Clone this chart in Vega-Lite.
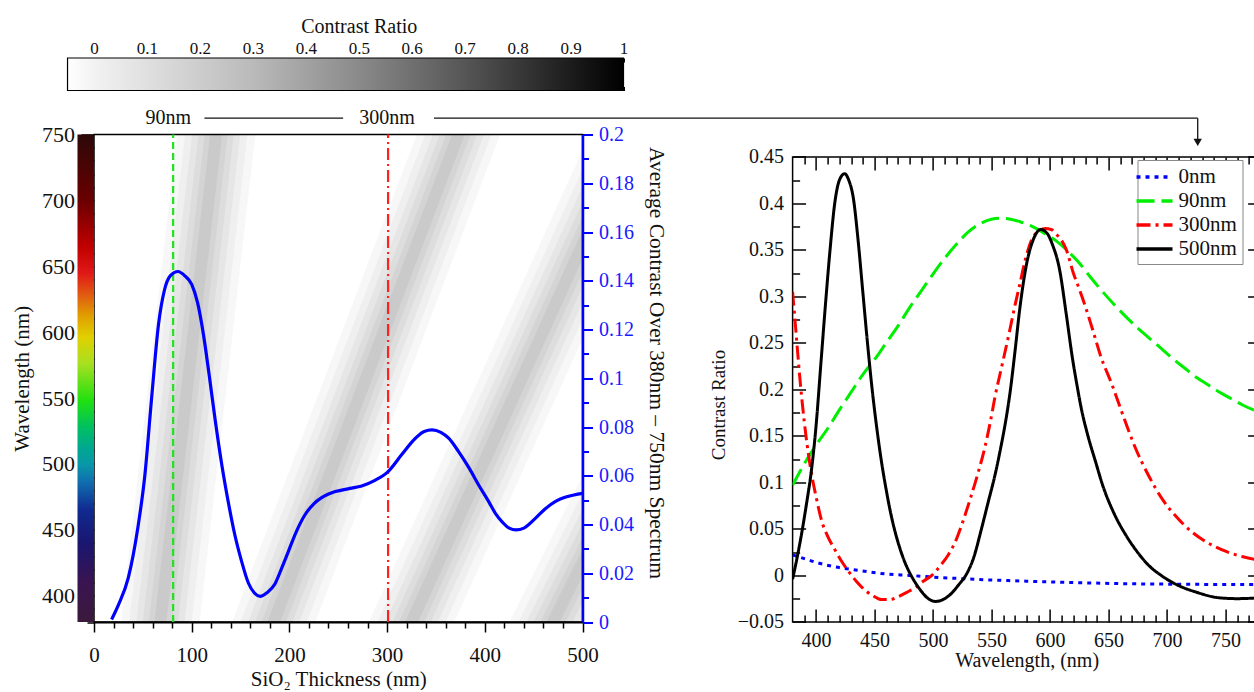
{
  "$schema": "https://vega.github.io/schema/vega-lite/v6.json",
  "padding": {"left": 10, "top": 16, "right": 0, "bottom": 0},
  "background": "white",
  "config": {
    "font": "Liberation Serif",
    "view": {"stroke": null},
    "axis": {"grid": false, "zindex": 1, "labelFont": "Liberation Serif", "titleFont": "Liberation Serif", "labelColor": "#111", "titleColor": "#111", "titleFontWeight": "normal", "tickColor": "#000", "domainColor": "#000", "labelFlush": false, "labelOverlap": false, "tickWidth": 1.5, "domainWidth": 2},
    "legend": {"labelFont": "Liberation Serif"},
    "text": {"font": "Liberation Serif"}
  },
  "datasets": {
    "bands": [
      {"band": "A", "d": 61.8, "w": 340}, {"band": "A", "d": 131.2, "w": 790},
      {"band": "B", "d": 163.6, "w": 340}, {"band": "B", "d": 393.4, "w": 790},
      {"band": "C", "d": 300.6, "w": 340}, {"band": "C", "d": 575.4, "w": 790},
      {"band": "D", "d": 443, "w": 340}, {"band": "D", "d": 745, "w": 790}
    ],
    "avg": [
      {"d":18,"v":0.001},{"d":25,"v":0.007},{"d":35,"v":0.018},{"d":45,"v":0.039},{"d":52,"v":0.06},{"d":59,"v":0.092},{"d":66,"v":0.122},{"d":72,"v":0.136},{"d":78,"v":0.142},{"d":86,"v":0.1438},{"d":93,"v":0.142},{"d":100,"v":0.1385},{"d":106,"v":0.131},{"d":112,"v":0.118},{"d":118,"v":0.101},{"d":124,"v":0.083},{"d":131,"v":0.064},{"d":138,"v":0.048},{"d":144,"v":0.036},{"d":151,"v":0.025},{"d":158,"v":0.016},{"d":164,"v":0.012},{"d":170,"v":0.0105},{"d":177,"v":0.012},{"d":185,"v":0.0155},{"d":192,"v":0.022},{"d":199,"v":0.029},{"d":207,"v":0.037},{"d":216,"v":0.044},{"d":225,"v":0.0485},{"d":233,"v":0.051},{"d":247,"v":0.0535},{"d":262,"v":0.0548},{"d":274,"v":0.0558},{"d":287,"v":0.058},{"d":301,"v":0.0617},{"d":315,"v":0.0687},{"d":329,"v":0.0754},{"d":338,"v":0.0782},{"d":346,"v":0.0788},{"d":355,"v":0.0778},{"d":363,"v":0.0754},{"d":373,"v":0.07},{"d":384,"v":0.0631},{"d":394,"v":0.056},{"d":404,"v":0.0494},{"d":411,"v":0.0445},{"d":418,"v":0.041},{"d":425,"v":0.0385},{"d":432,"v":0.0378},{"d":440,"v":0.0385},{"d":452,"v":0.0426},{"d":462,"v":0.0465},{"d":472,"v":0.0494},{"d":485,"v":0.0515},{"d":500,"v":0.0528}
    ],
    "spectra": [
      {"t":"0nm","x":380,"y":0.022},{"t":"0nm","x":390,"y":0.018},{"t":"0nm","x":400,"y":0.014},{"t":"0nm","x":415,"y":0.0095},{"t":"0nm","x":430,"y":0.0065},{"t":"0nm","x":445,"y":0.0038},{"t":"0nm","x":460,"y":0.0015},{"t":"0nm","x":480,"y":0.0},{"t":"0nm","x":500,"y":-0.0018},{"t":"0nm","x":520,"y":-0.0032},{"t":"0nm","x":545,"y":-0.0047},{"t":"0nm","x":570,"y":-0.0058},{"t":"0nm","x":600,"y":-0.007},{"t":"0nm","x":630,"y":-0.008},{"t":"0nm","x":660,"y":-0.0088},{"t":"0nm","x":700,"y":-0.0094},{"t":"0nm","x":740,"y":-0.0097},{"t":"0nm","x":780,"y":-0.0099},
      {"t":"90nm","x":380,"y":0.097},{"t":"90nm","x":390,"y":0.12},{"t":"90nm","x":400,"y":0.14},{"t":"90nm","x":410,"y":0.158},{"t":"90nm","x":420,"y":0.178},{"t":"90nm","x":430,"y":0.197},{"t":"90nm","x":440,"y":0.216},{"t":"90nm","x":450,"y":0.232},{"t":"90nm","x":460,"y":0.25},{"t":"90nm","x":470,"y":0.268},{"t":"90nm","x":480,"y":0.288},{"t":"90nm","x":490,"y":0.306},{"t":"90nm","x":500,"y":0.324},{"t":"90nm","x":510,"y":0.341},{"t":"90nm","x":520,"y":0.356},{"t":"90nm","x":530,"y":0.369},{"t":"90nm","x":540,"y":0.378},{"t":"90nm","x":550,"y":0.383},{"t":"90nm","x":558,"y":0.384},{"t":"90nm","x":566,"y":0.383},{"t":"90nm","x":575,"y":0.38},{"t":"90nm","x":585,"y":0.375},{"t":"90nm","x":595,"y":0.368},{"t":"90nm","x":605,"y":0.36},{"t":"90nm","x":615,"y":0.349},{"t":"90nm","x":625,"y":0.336},{"t":"90nm","x":635,"y":0.32},{"t":"90nm","x":645,"y":0.305},{"t":"90nm","x":655,"y":0.291},{"t":"90nm","x":665,"y":0.278},{"t":"90nm","x":675,"y":0.266},{"t":"90nm","x":685,"y":0.255},{"t":"90nm","x":695,"y":0.244},{"t":"90nm","x":705,"y":0.233},{"t":"90nm","x":715,"y":0.223},{"t":"90nm","x":725,"y":0.213},{"t":"90nm","x":735,"y":0.205},{"t":"90nm","x":745,"y":0.197},{"t":"90nm","x":755,"y":0.19},{"t":"90nm","x":765,"y":0.183},{"t":"90nm","x":780,"y":0.175},
      {"t":"300nm","x":380,"y":0.305},{"t":"300nm","x":383,"y":0.26},{"t":"300nm","x":386,"y":0.215},{"t":"300nm","x":390,"y":0.165},{"t":"300nm","x":395,"y":0.118},{"t":"300nm","x":400,"y":0.085},{"t":"300nm","x":405,"y":0.058},{"t":"300nm","x":410,"y":0.042},{"t":"300nm","x":416,"y":0.028},{"t":"300nm","x":422,"y":0.015},{"t":"300nm","x":428,"y":0.004},{"t":"300nm","x":435,"y":-0.007},{"t":"300nm","x":442,"y":-0.016},{"t":"300nm","x":449,"y":-0.022},{"t":"300nm","x":456,"y":-0.026},{"t":"300nm","x":463,"y":-0.026},{"t":"300nm","x":470,"y":-0.023},{"t":"300nm","x":478,"y":-0.018},{"t":"300nm","x":485,"y":-0.013},{"t":"300nm","x":492,"y":-0.006},{"t":"300nm","x":499,"y":0.0},{"t":"300nm","x":506,"y":0.01},{"t":"300nm","x":513,"y":0.022},{"t":"300nm","x":519,"y":0.036},{"t":"300nm","x":525,"y":0.056},{"t":"300nm","x":532,"y":0.083},{"t":"300nm","x":538,"y":0.108},{"t":"300nm","x":544,"y":0.136},{"t":"300nm","x":549,"y":0.165},{"t":"300nm","x":553,"y":0.192},{"t":"300nm","x":559,"y":0.226},{"t":"300nm","x":565,"y":0.26},{"t":"300nm","x":570,"y":0.29},{"t":"300nm","x":574,"y":0.312},{"t":"300nm","x":579,"y":0.34},{"t":"300nm","x":584,"y":0.36},{"t":"300nm","x":590,"y":0.37},{"t":"300nm","x":596,"y":0.373},{"t":"300nm","x":601,"y":0.372},{"t":"300nm","x":606,"y":0.366},{"t":"300nm","x":610,"y":0.36},{"t":"300nm","x":614,"y":0.35},{"t":"300nm","x":620,"y":0.325},{"t":"300nm","x":625,"y":0.308},{"t":"300nm","x":630,"y":0.29},{"t":"300nm","x":637,"y":0.262},{"t":"300nm","x":643,"y":0.237},{"t":"300nm","x":653,"y":0.205},{"t":"300nm","x":663,"y":0.17},{"t":"300nm","x":673,"y":0.137},{"t":"300nm","x":684,"y":0.108},{"t":"300nm","x":696,"y":0.082},{"t":"300nm","x":708,"y":0.063},{"t":"300nm","x":721,"y":0.047},{"t":"300nm","x":735,"y":0.035},{"t":"300nm","x":750,"y":0.026},{"t":"300nm","x":765,"y":0.02},{"t":"300nm","x":780,"y":0.016},
      {"t":"500nm","x":380,"y":-0.004},{"t":"500nm","x":384,"y":0.02},{"t":"500nm","x":388,"y":0.047},{"t":"500nm","x":392,"y":0.078},{"t":"500nm","x":396,"y":0.112},{"t":"500nm","x":400,"y":0.16},{"t":"500nm","x":404,"y":0.225},{"t":"500nm","x":408,"y":0.29},{"t":"500nm","x":412,"y":0.35},{"t":"500nm","x":416,"y":0.4},{"t":"500nm","x":420,"y":0.425},{"t":"500nm","x":424.5,"y":0.432},{"t":"500nm","x":428,"y":0.425},{"t":"500nm","x":432,"y":0.405},{"t":"500nm","x":436,"y":0.36},{"t":"500nm","x":440,"y":0.305},{"t":"500nm","x":444,"y":0.25},{"t":"500nm","x":448,"y":0.2},{"t":"500nm","x":452,"y":0.158},{"t":"500nm","x":456,"y":0.122},{"t":"500nm","x":460,"y":0.092},{"t":"500nm","x":464,"y":0.066},{"t":"500nm","x":468,"y":0.045},{"t":"500nm","x":472,"y":0.028},{"t":"500nm","x":476,"y":0.014},{"t":"500nm","x":480,"y":0.003},{"t":"500nm","x":485,"y":-0.008},{"t":"500nm","x":490,"y":-0.017},{"t":"500nm","x":495,"y":-0.024},{"t":"500nm","x":502,"y":-0.028},{"t":"500nm","x":510,"y":-0.025},{"t":"500nm","x":516,"y":-0.019},{"t":"500nm","x":522,"y":-0.01},{"t":"500nm","x":528,"y":0.0},{"t":"500nm","x":535,"y":0.02},{"t":"500nm","x":541,"y":0.048},{"t":"500nm","x":547,"y":0.078},{"t":"500nm","x":553,"y":0.108},{"t":"500nm","x":558,"y":0.138},{"t":"500nm","x":562,"y":0.165},{"t":"500nm","x":566,"y":0.198},{"t":"500nm","x":570,"y":0.24},{"t":"500nm","x":574,"y":0.285},{"t":"500nm","x":580,"y":0.335},{"t":"500nm","x":586,"y":0.362},{"t":"500nm","x":592,"y":0.372},{"t":"500nm","x":598,"y":0.367},{"t":"500nm","x":602,"y":0.356},{"t":"500nm","x":608,"y":0.33},{"t":"500nm","x":614,"y":0.28},{"t":"500nm","x":619,"y":0.235},{"t":"500nm","x":623,"y":0.205},{"t":"500nm","x":627,"y":0.178},{"t":"500nm","x":632,"y":0.152},{"t":"500nm","x":639,"y":0.122},{"t":"500nm","x":645,"y":0.097},{"t":"500nm","x":655,"y":0.066},{"t":"500nm","x":665,"y":0.043},{"t":"500nm","x":673,"y":0.028},{"t":"500nm","x":685,"y":0.01},{"t":"500nm","x":695,"y":0.0},{"t":"500nm","x":710,"y":-0.011},{"t":"500nm","x":725,"y":-0.018},{"t":"500nm","x":744,"y":-0.024},{"t":"500nm","x":760,"y":-0.025},{"t":"500nm","x":780,"y":-0.024}
    ]
  },
  "bounds": "flush",
  "spacing": 43.5,
  "vconcat": [
    {
      "width": 529.5,
      "height": 32.5,
      "data": {"values": [{"lo": -0.05, "hi": 1, "b": 0, "t": 1}]},
      "resolve": {"axis": {"x": "independent"}},
      "layer": [
        {
          "mark": {"type": "rect", "stroke": "#000", "strokeWidth": 1.2, "color": {"gradient": "linear", "x1": 0, "y1": 0, "x2": 1, "y2": 0, "stops": [
            {"offset": 0, "color": "#ffffff"}, {"offset": 0.048, "color": "#f2f2f2"}, {"offset": 0.333, "color": "#bababa"}, {"offset": 0.524, "color": "#8a8a8a"}, {"offset": 0.714, "color": "#565656"}, {"offset": 0.905, "color": "#1c1c1c"}, {"offset": 1, "color": "#000000"}]}},
          "encoding": {
            "x": {"field": "lo", "type": "quantitative", "scale": {"domain": [0, 1], "nice": false, "zero": false},
              "axis": {"orient": "top", "values": [0,0.1,0.2,0.3,0.4,0.5,0.6,0.7,0.8,0.9,1], "format": "~g", "tickSize": -4, "tickWidth": 1, "labelPadding": 5, "labelFontSize": 17, "domain": false, "title": "Contrast Ratio", "titleFontSize": 20, "titlePadding": 3}},
            "x2": {"field": "hi"},
            "y": {"field": "b", "type": "quantitative", "scale": {"domain": [0, 1], "nice": false, "zero": false}, "axis": null},
            "y2": {"field": "t"}
          }
        },
        {
          "mark": {"type": "point", "opacity": 0},
          "encoding": {
            "x": {"field": "hi", "type": "quantitative", "scale": {"domain": [0, 1], "nice": false, "zero": false},
              "axis": {"orient": "bottom", "values": [0,0.1,0.2,0.3,0.4,0.5,0.6,0.7,0.8,0.9,1], "labels": false, "tickSize": -4, "tickWidth": 1, "domain": false, "title": null}},
            "y": {"field": "b", "type": "quantitative", "scale": {"domain": [0, 1], "nice": false, "zero": false}, "axis": null}
          }
        }
      ]
    },
    {
      "bounds": "flush",
      "spacing": 209.6,
      "hconcat": [
        {
          "width": 488.5,
          "height": 487.5,
          "view": {"stroke": "#000", "strokeWidth": 1.5},
          "resolve": {"scale": {"y": "independent"}, "axis": {"x": "independent", "y": "independent"}},
          "layer": [
            {
              "data": {"values": [{"lo": 380, "hi": 750, "a": -16.9, "b": 0}]},
              "mark": {"type": "rect", "color": {"gradient": "linear", "x1": 0, "y1": 1, "x2": 0, "y2": 0, "stops": [
                {"offset": 0, "color": "#3a1a3c"}, {"offset": 0.081, "color": "#3a1450"}, {"offset": 0.162, "color": "#1a1670"}, {"offset": 0.23, "color": "#102a90"}, {"offset": 0.289, "color": "#1070b0"}, {"offset": 0.324, "color": "#0898a8"}, {"offset": 0.357, "color": "#00a890"}, {"offset": 0.4, "color": "#00c060"}, {"offset": 0.454, "color": "#20e010"}, {"offset": 0.53, "color": "#a8e020"}, {"offset": 0.584, "color": "#e0d000"}, {"offset": 0.627, "color": "#e0a000"}, {"offset": 0.668, "color": "#e06010"}, {"offset": 0.716, "color": "#e01818"}, {"offset": 0.77, "color": "#c00000"}, {"offset": 0.865, "color": "#6a0000"}, {"offset": 1, "color": "#2c0808"}]}},
              "encoding": {
                "x": {"field": "a", "type": "quantitative", "scale": {"domain": [0, 500], "nice": false, "zero": false}, "axis": null},
                "x2": {"field": "b"},
                "y": {"field": "lo", "type": "quantitative", "scale": {"domain": [380, 750], "nice": false, "zero": false}, "axis": null},
                "y2": {"field": "hi"}
              }
            },
            {
              "data": {"name": "bands"},
              "mark": {"type": "line", "stroke": "#000", "strokeWidth": 78, "opacity": 0.03, "clip": true, "strokeCap": "butt"},
              "encoding": {
                "x": {"field": "d", "type": "quantitative", "scale": {"domain": [0, 500], "nice": false, "zero": false},
                  "axis": {"orient": "bottom", "values": [0,100,200,300,400,500], "tickSize": 10, "labelPadding": 12, "labelFontSize": 21, "title": "SiO₂ Thickness (nm)", "titleFontSize": 21, "titlePadding": 3}},
                "y": {"field": "w", "type": "quantitative", "scale": {"domain": [380, 750], "nice": false, "zero": false},
                  "axis": {"orient": "left", "values": [400,450,500,550,600,650,700,750], "tickSize": 13, "labelPadding": 6.5, "labelFontSize": 22, "domain": false, "title": "Wavelength (nm)", "titleFontSize": 21, "titlePadding": 9}},
                "detail": {"field": "band"}
              }
            },
            {
              "data": {"name": "bands"},
              "mark": {"type": "line", "stroke": "#000", "strokeWidth": 62, "opacity": 0.032, "clip": true, "strokeCap": "butt"},
              "encoding": {
                "x": {"field": "d", "type": "quantitative", "scale": {"domain": [0, 500], "nice": false, "zero": false}, "axis": null},
                "y": {"field": "w", "type": "quantitative", "scale": {"domain": [380, 750], "nice": false, "zero": false}, "axis": null},
                "detail": {"field": "band"}
              }
            },
            {
              "data": {"name": "bands"},
              "mark": {"type": "line", "stroke": "#000", "strokeWidth": 48, "opacity": 0.035, "clip": true, "strokeCap": "butt"},
              "encoding": {
                "x": {"field": "d", "type": "quantitative", "scale": {"domain": [0, 500], "nice": false, "zero": false}, "axis": null},
                "y": {"field": "w", "type": "quantitative", "scale": {"domain": [380, 750], "nice": false, "zero": false}, "axis": null},
                "detail": {"field": "band"}
              }
            },
            {
              "data": {"name": "bands"},
              "mark": {"type": "line", "stroke": "#000", "strokeWidth": 35, "opacity": 0.038, "clip": true, "strokeCap": "butt"},
              "encoding": {
                "x": {"field": "d", "type": "quantitative", "scale": {"domain": [0, 500], "nice": false, "zero": false}, "axis": null},
                "y": {"field": "w", "type": "quantitative", "scale": {"domain": [380, 750], "nice": false, "zero": false}, "axis": null},
                "detail": {"field": "band"}
              }
            },
            {
              "data": {"name": "bands"},
              "mark": {"type": "line", "stroke": "#000", "strokeWidth": 23, "opacity": 0.04, "clip": true, "strokeCap": "butt"},
              "encoding": {
                "x": {"field": "d", "type": "quantitative", "scale": {"domain": [0, 500], "nice": false, "zero": false}, "axis": null},
                "y": {"field": "w", "type": "quantitative", "scale": {"domain": [380, 750], "nice": false, "zero": false}, "axis": null},
                "detail": {"field": "band"}
              }
            },
            {
              "data": {"name": "bands"},
              "mark": {"type": "line", "stroke": "#000", "strokeWidth": 12, "opacity": 0.042, "clip": true, "strokeCap": "butt"},
              "encoding": {
                "x": {"field": "d", "type": "quantitative", "scale": {"domain": [0, 500], "nice": false, "zero": false}, "axis": null},
                "y": {"field": "w", "type": "quantitative", "scale": {"domain": [380, 750], "nice": false, "zero": false}, "axis": null},
                "detail": {"field": "band"}
              }
            },
            {
              "data": {"values": [{"d": 0, "w": 380}]},
              "mark": {"type": "point", "opacity": 0},
              "encoding": {
                "x": {"field": "d", "type": "quantitative", "scale": {"domain": [0, 500], "nice": false, "zero": false},
                  "axis": {"orient": "bottom", "values": [20,40,60,80,120,140,160,180,220,240,260,280,320,340,360,380,420,440,460,480], "labels": false, "tickSize": 6, "domain": false, "title": null}},
                "y": {"field": "w", "type": "quantitative", "scale": {"domain": [380, 750], "nice": false, "zero": false},
                  "axis": {"orient": "left", "values": [380,390,410,420,430,440,460,470,480,490,510,520,530,540,560,570,580,590,610,620,630,640,660,670,680,690,710,720,730,740], "labels": false, "tickSize": 7, "domain": false, "title": null}}
              }
            },
            {
              "data": {"values": [{"d": 81, "w1": 380, "w2": 750}]},
              "mark": {"type": "rule", "color": "#22e022", "strokeWidth": 2.2, "strokeDash": [7, 4]},
              "encoding": {
                "x": {"field": "d", "type": "quantitative", "scale": {"domain": [0, 500], "nice": false, "zero": false}, "axis": null},
                "y": {"field": "w1", "type": "quantitative", "scale": {"domain": [380, 750], "nice": false, "zero": false}, "axis": null},
                "y2": {"field": "w2"}
              }
            },
            {
              "data": {"values": [{"d": 301, "w1": 380, "w2": 750}]},
              "mark": {"type": "rule", "color": "#ff2020", "strokeWidth": 2.2, "strokeDash": [12, 4, 2, 4]},
              "encoding": {
                "x": {"field": "d", "type": "quantitative", "scale": {"domain": [0, 500], "nice": false, "zero": false}, "axis": null},
                "y": {"field": "w1", "type": "quantitative", "scale": {"domain": [380, 750], "nice": false, "zero": false}, "axis": null},
                "y2": {"field": "w2"}
              }
            },
            {
              "data": {"name": "avg"},
              "mark": {"type": "line", "color": "#0000ff", "strokeWidth": 3.2, "interpolate": "monotone"},
              "encoding": {
                "x": {"field": "d", "type": "quantitative", "scale": {"domain": [0, 500], "nice": false, "zero": false}, "axis": null},
                "y": {"field": "v", "type": "quantitative", "scale": {"domain": [0, 0.2], "nice": false, "zero": false},
                  "axis": {"orient": "right", "values": [0,0.02,0.04,0.06,0.08,0.1,0.12,0.14,0.16,0.18,0.2], "format": "~g", "tickSize": 10, "tickColor": "#0000ff", "tickWidth": 2, "domainColor": "#0000ff", "domainWidth": 2.5, "labelColor": "#1a1aff", "labelFontSize": 20, "labelPadding": 6, "title": "Average Contrast Over 380nm – 750nm Spectrum", "titleFontSize": 21.5, "titlePadding": 11, "titleY": 228}}
              }
            },
            {
              "data": {"values": [{"d": 0, "v": 0}]},
              "mark": {"type": "point", "opacity": 0},
              "encoding": {
                "x": {"field": "d", "type": "quantitative", "scale": {"domain": [0, 500], "nice": false, "zero": false}, "axis": null},
                "y": {"field": "v", "type": "quantitative", "scale": {"domain": [0, 0.2], "nice": false, "zero": false},
                  "axis": {"orient": "right", "values": [0.01,0.03,0.05,0.07,0.09,0.11,0.13,0.15,0.17,0.19], "labels": false, "tickSize": 6, "tickColor": "#0000ff", "tickWidth": 2, "domain": false, "title": null}}
              }
            },
            {
              "data": {"values": [{"d": 76, "w": 762.4, "lab": "90nm"}, {"d": 300, "w": 762.4, "lab": "300nm"}]},
              "mark": {"type": "text", "fontSize": 20, "font": "Liberation Serif", "color": "#111", "baseline": "middle", "align": "center"},
              "encoding": {
                "x": {"field": "d", "type": "quantitative", "scale": {"domain": [0, 500], "nice": false, "zero": false}, "axis": null},
                "y": {"field": "w", "type": "quantitative", "scale": {"domain": [380, 750], "nice": false, "zero": false}, "axis": null},
                "text": {"field": "lab"}
              }
            },
            {
              "data": {"values": [{"a": 113, "b": 255, "w": 762.4}, {"a": 348, "b": 1129.7, "w": 762.4}]},
              "mark": {"type": "rule", "color": "#111", "strokeWidth": 1.3},
              "encoding": {
                "x": {"field": "a", "type": "quantitative", "scale": {"domain": [0, 500], "nice": false, "zero": false}, "axis": null},
                "x2": {"field": "b"},
                "y": {"field": "w", "type": "quantitative", "scale": {"domain": [380, 750], "nice": false, "zero": false}, "axis": null}
              }
            },
            {
              "data": {"values": [{"d": 1129.7, "w1": 762.4, "w2": 746}]},
              "mark": {"type": "rule", "color": "#111", "strokeWidth": 1.3},
              "encoding": {
                "x": {"field": "d", "type": "quantitative", "scale": {"domain": [0, 500], "nice": false, "zero": false}, "axis": null},
                "y": {"field": "w1", "type": "quantitative", "scale": {"domain": [380, 750], "nice": false, "zero": false}, "axis": null},
                "y2": {"field": "w2"}
              }
            },
            {
              "data": {"values": [{"d": 1129.7, "w": 744}]},
              "mark": {"type": "point", "shape": "triangle-down", "filled": true, "color": "#111", "size": 70, "opacity": 1},
              "encoding": {
                "x": {"field": "d", "type": "quantitative", "scale": {"domain": [0, 500], "nice": false, "zero": false}, "axis": null},
                "y": {"field": "w", "type": "quantitative", "scale": {"domain": [380, 750], "nice": false, "zero": false}, "axis": null}
              }
            }
          ]
        },
        {
          "width": 468,
          "height": 487.4,
          "resolve": {"axis": {"x": "independent", "y": "independent"}},
          "layer": [
            {
              "data": {"values": [{"x1": 380, "x2": 780, "y1": -0.05, "y2": 0.45}]},
              "mark": {"type": "rect", "filled": false, "stroke": "#000", "strokeWidth": 1.5},
              "encoding": {
                "x": {"field": "x1", "type": "quantitative", "scale": {"domain": [380, 780], "nice": false, "zero": false}, "axis": null},
                "x2": {"field": "x2"},
                "y": {"field": "y1", "type": "quantitative", "scale": {"domain": [-0.05, 0.4741], "nice": false, "zero": false}, "axis": null},
                "y2": {"field": "y2"}
              }
            },
            {
              "data": {"name": "spectra"},
              "mark": {"type": "line", "strokeWidth": 3, "interpolate": "monotone", "clip": true},
              "encoding": {
                "x": {"field": "x", "type": "quantitative", "scale": {"domain": [380, 780], "nice": false, "zero": false},
                  "axis": {"orient": "bottom", "values": [400,450,500,550,600,650,700,750], "tickSize": -13, "labelPadding": 22, "labelFontSize": 20, "domain": false, "title": "Wavelength, (nm)", "titleFontSize": 20, "titlePadding": 0}},
                "y": {"field": "y", "type": "quantitative", "scale": {"domain": [-0.05, 0.4741], "nice": false, "zero": false},
                  "axis": {"orient": "left", "values": [-0.05,0,0.05,0.1,0.15,0.2,0.25,0.3,0.35,0.4,0.45], "format": "~g", "tickSize": -13, "labelPadding": 22, "labelFontSize": 20, "domain": false, "title": "Contrast Ratio", "titleFontSize": 19, "titlePadding": 9, "titleY": 270}},
                "color": {"field": "t", "type": "nominal", "scale": {"domain": ["0nm", "90nm", "300nm", "500nm"], "range": ["#0000ff", "#00ee00", "#ff0000", "#000000"]},
                  "legend": {"title": null, "orient": "none", "legendX": 1043.5, "legendY": 102, "strokeColor": "#888", "fillColor": "#ffffff", "padding": 5, "symbolType": "M-1.8,0H1.8", "symbolSize": 400, "symbolStrokeWidth": 3.5, "labelFontSize": 21, "labelColor": "#111", "labelOffset": 12, "rowPadding": 2}},
                "strokeDash": {"field": "t", "type": "nominal", "scale": {"domain": ["0nm", "90nm", "300nm", "500nm"], "range": [[4, 5], [18, 7], [14, 5, 3, 5], [1, 0]]},
                  "legend": {"title": null, "orient": "none", "legendX": 1043.5, "legendY": 102, "strokeColor": "#888", "fillColor": "#ffffff", "padding": 5, "symbolType": "M-1.8,0H1.8", "symbolSize": 400, "symbolStrokeWidth": 3.5, "labelFontSize": 21, "labelColor": "#111", "labelOffset": 12, "rowPadding": 2}}
              }
            },
            {
              "data": {"values": [{"x": 500, "y": 0}]},
              "mark": {"type": "point", "opacity": 0},
              "encoding": {
                "x": {"field": "x", "type": "quantitative", "scale": {"domain": [380, 780], "nice": false, "zero": false},
                  "axis": {"orient": "bottom", "values": [390,410,420,430,440,460,470,480,490,510,520,530,540,560,570,580,590,610,620,630,640,660,670,680,690,710,720,730,740,760,770], "labels": false, "tickSize": -7, "domain": false, "title": null}},
                "y": {"field": "y", "type": "quantitative", "scale": {"domain": [-0.05, 0.4741], "nice": false, "zero": false},
                  "axis": {"orient": "left", "values": [-0.025,0.025,0.075,0.125,0.175,0.225,0.275,0.325,0.375,0.425], "labels": false, "tickSize": -7, "domain": false, "title": null}}
              }
            },
            {
              "data": {"values": [{"x": 500, "y": 0}]},
              "mark": {"type": "point", "opacity": 0},
              "encoding": {
                "x": {"field": "x", "type": "quantitative", "scale": {"domain": [380, 780], "nice": false, "zero": false},
                  "axis": {"orient": "top", "offset": -22.4, "values": [400,450,500,550,600,650,700,750], "labels": false, "tickSize": -13, "domain": false, "title": null}},
                "y": {"field": "y", "type": "quantitative", "scale": {"domain": [-0.05, 0.4741], "nice": false, "zero": false},
                  "axis": {"orient": "right", "values": [-0.05,0,0.05,0.1,0.15,0.2,0.25,0.3,0.35,0.4,0.45], "labels": false, "tickSize": -13, "domain": false, "title": null}}
              }
            },
            {
              "data": {"values": [{"x": 500, "y": 0}]},
              "mark": {"type": "point", "opacity": 0},
              "encoding": {
                "x": {"field": "x", "type": "quantitative", "scale": {"domain": [380, 780], "nice": false, "zero": false},
                  "axis": {"orient": "top", "offset": -22.4, "values": [390,410,420,430,440,460,470,480,490,510,520,530,540,560,570,580,590,610,620,630,640,660,670,680,690,710,720,730,740,760,770], "labels": false, "tickSize": -7, "domain": false, "title": null}},
                "y": {"field": "y", "type": "quantitative", "scale": {"domain": [-0.05, 0.4741], "nice": false, "zero": false},
                  "axis": {"orient": "right", "values": [-0.025,0.025,0.075,0.125,0.175,0.225,0.275,0.325,0.375,0.425], "labels": false, "tickSize": -7, "domain": false, "title": null}}
              }
            }
          ]
        }
      ]
    }
  ]
}
